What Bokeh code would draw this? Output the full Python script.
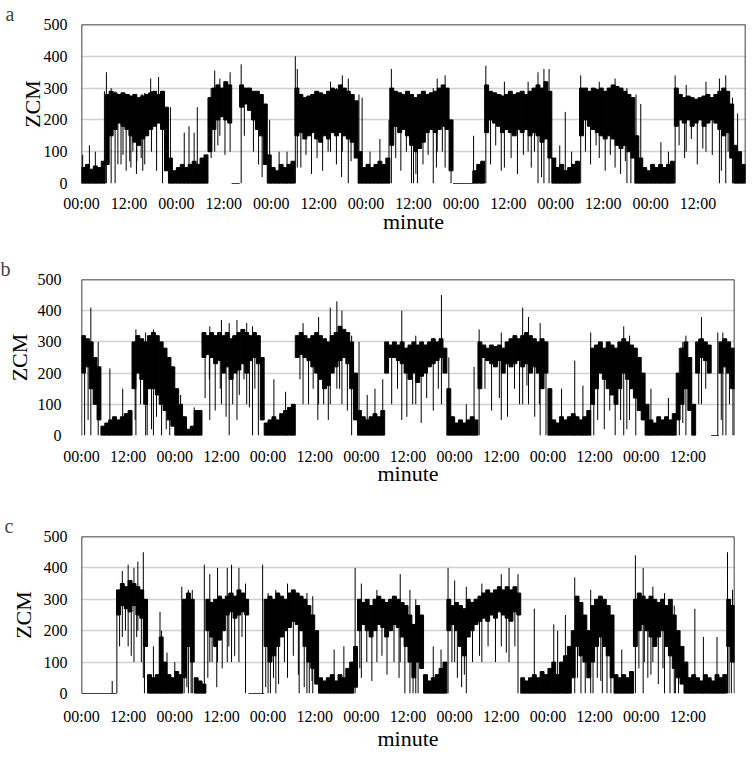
from bokeh.plotting import figure
from bokeh.models import Range1d, FixedTicker, Span, ColumnDataSource
from bokeh.layouts import column
from bokeh.embed import file_html
from bokeh.resources import INLINE

# ---------------- data (hourly envelope of ZCM) ----------------
tick_minutes = [0, 720, 1440, 2160, 2880, 3600, 4320, 5040, 5760, 6480, 7200, 7920, 8640, 9360]
tick_labels = ["00:00", "12:00"] * 7

a_top = [50, 60, 45, 55, 50, 70, 280, 290, 285, 280, 285, 280, 275, 280, 270, 275, 280, 285, 290, 280,
         290, 240, 80, 40, 50, 60, 50, 60, 70, 60, 80, 90, 270, 300, 310, 300, 320, 310, 0, 0,
         310, 300, 300, 290, 290, 280, 250, 90, 50, 40, 60, 50, 60, 70, 300, 280, 270, 275, 280, 290,
         285, 280, 290, 300, 295, 310, 300, 290, 280, 260, 100, 50, 60, 50, 60, 70, 60, 80, 300, 290,
         285, 280, 290, 280, 270, 280, 290, 280, 285, 290, 300, 310, 300, 200, 0, 0, 0, 0, 0, 40,
         60, 70, 310, 290, 285, 280, 275, 280, 290, 280, 285, 290, 280, 290, 300, 310, 300, 320, 290, 80,
         50, 60, 40, 50, 60, 70, 300, 300, 290, 300, 295, 300, 290, 300, 310, 305, 300, 290, 280, 270,
         150, 80, 50, 40, 60, 50, 60, 50, 60, 70, 300, 280, 270, 275, 270, 265, 270, 275, 280, 270,
         280, 290, 300, 290, 250, 120, 100, 60]
a_bot = [0, 0, 0, 0, 0, 0, 60, 150, 170, 190, 180, 170, 150, 130, 120, 140, 150, 170, 180, 190,
         170, 40, 0, 0, 0, 0, 0, 0, 0, 0, 0, 0, 100, 170, 200, 210, 200, 190, 0, 0,
         240, 250, 230, 200, 170, 150, 60, 0, 0, 0, 0, 0, 0, 0, 150, 160, 140, 150, 160, 140,
         130, 150, 140, 160, 150, 160, 150, 140, 130, 80, 0, 0, 0, 0, 0, 0, 0, 0, 120, 180,
         160, 170, 150, 120, 100, 110, 130, 160, 170, 160, 170, 180, 170, 40, 0, 0, 0, 0, 0, 0,
         0, 0, 160, 200, 190, 180, 160, 170, 160, 150, 170, 160, 170, 150, 160, 150, 130, 140, 80, 0,
         0, 0, 0, 0, 0, 0, 150, 200, 180, 170, 160, 150, 140, 150, 140, 120, 110, 120, 100, 80,
         0, 0, 0, 0, 0, 0, 0, 0, 0, 0, 180, 200, 190, 200, 180, 190, 200, 180, 190, 200,
         190, 170, 150, 160, 80, 0, 0, 0]
a_spk_h = [0.3, 2.0, 3.5, 5.8, 6.3, 7.5, 8.5, 10, 12.5, 14, 15.5, 17.5, 19.5, 20.5, 22.5, 26, 27.2, 28.5,
           29.3, 33.7, 35, 37.6, 40.4, 47.6, 50, 52, 54.1, 54.6, 63, 66, 67.5, 70.2, 71, 73, 75.5, 77.8,
           78.4, 84, 85, 89, 90, 92, 93.5, 99.2, 102.3, 107, 113, 115.5, 117, 118.3, 121, 122.4, 124,
           126.3, 131, 135, 138, 140.3, 141.5, 146.6, 148.5, 150.2, 153, 158, 161.4, 163, 164.7, 166]
a_spk_lo = [0, 0, 0, 0, 0, 0, 0, 60, 50, 70, 40, 200, 220, 0, 0, 0, 0, 0,
            0, 100, 150, 100, 0, 0, 0, 0, 0, 50, 100, 100, 0, 0, 0, 0, 0, 0,
            0, 0, 0, 0, 100, 50, 0, 0, 0, 50, 100, 0, 0, 0, 0, 0, 0,
            0, 80, 50, 0, 0, 0, 0, 0, 0, 100, 100, 0, 0, 0, 0]
a_spk_hi = [90, 120, 100, 290, 350, 300, 290, 280, 270, 260, 280, 330, 335, 290, 240, 160, 180, 160,
            240, 355, 330, 350, 375, 200, 100, 100, 400, 360, 320, 340, 330, 280, 270, 100, 140, 200,
            360, 250, 270, 300, 330, 340, 150, 150, 370, 320, 320, 350, 360, 360, 120, 225, 100,
            340, 320, 330, 300, 280, 250, 130, 100, 340, 310, 320, 330, 340, 270, 220]
a_drop_h = [9.2, 10.5, 11.3, 12.2, 13.0, 13.9, 15.1, 16.0, 17.7, 19.0, 32.8, 34.5, 36.3, 41.2, 43.5,
            44.8, 45.7, 55.5, 56.8, 58.2, 59.6, 61.0, 62.4, 64.5, 65.8, 68.2, 79.5, 80.8, 82.2, 83.5,
            84.6, 86.4, 87.7, 89.8, 91.3, 103.5, 104.8, 106.2, 108.7, 110.3, 111.8, 113.8, 114.6, 116.4,
            127.5, 128.8, 130.2, 132.5, 133.8, 136.4, 137.6, 139.0, 151.2, 152.6, 154.3, 155.8, 157.2,
            159.6, 161.9, 163.6]
a_drop_lo = [60, 90, 40, 70, 100, 30, 80, 60, 100, 40, 80, 120, 90, 150, 100,
             60, 20, 50, 90, 30, 80, 40, 100, 60, 20, 70, 80, 40, 100, 0,
             30, 60, 90, 50, 100, 60, 120, 40, 80, 30, 90, 50, 100, 20,
             100, 60, 120, 40, 90, 30, 70, 0, 120, 80, 140, 60, 110,
             90, 40, 100]
a_drop_hi = [280, 285, 270, 280, 275, 270, 280, 285, 290, 280, 300, 310, 320, 300, 290,
             280, 270, 280, 270, 280, 290, 280, 290, 300, 310, 280, 290, 285, 280, 280,
             270, 290, 280, 290, 300, 290, 285, 280, 290, 285, 290, 290, 300, 300,
             300, 290, 300, 290, 300, 300, 290, 270, 280, 270, 270, 265, 275,
             270, 290, 290]

b_top = [320, 310, 300, 250, 220, 30, 40, 50, 60, 50, 60, 70, 80, 300, 320, 310, 300, 320, 330, 320,
         300, 280, 250, 220, 150, 100, 60, 20, 30, 80, 80, 330, 320, 330, 320, 330, 320, 330, 310, 320,
         330, 340, 330, 320, 330, 320, 250, 40, 50, 60, 50, 70, 80, 90, 100, 320, 330, 320, 310, 320,
         330, 320, 310, 300, 320, 330, 350, 340, 330, 300, 200, 80, 60, 50, 60, 70, 60, 80, 300, 290,
         300, 290, 300, 280, 290, 300, 290, 300, 290, 300, 310, 300, 310, 280, 150, 60, 40, 50, 40, 50,
         60, 50, 300, 290, 280, 290, 285, 290, 280, 300, 310, 320, 310, 320, 330, 320, 310, 300, 310, 300,
         150, 50, 40, 60, 50, 60, 70, 60, 50, 60, 80, 280, 290, 300, 280, 300, 290, 280, 300, 310,
         300, 290, 280, 250, 200, 100, 50, 40, 60, 50, 60, 50, 70, 200, 280, 300, 250, 100, 300, 310,
         300, 290, 0, 0, 300, 310, 300, 280]
b_bot = [200, 220, 150, 100, 50, 0, 0, 0, 0, 0, 0, 0, 0, 150, 200, 180, 100, 150, 150, 130,
         100, 80, 50, 30, 0, 0, 0, 0, 0, 0, 0, 250, 260, 250, 230, 240, 200, 220, 180, 200,
         210, 230, 200, 240, 250, 230, 50, 0, 0, 0, 0, 0, 0, 0, 0, 250, 260, 250, 240, 220,
         200, 180, 150, 160, 200, 220, 240, 250, 230, 150, 50, 0, 0, 0, 0, 0, 0, 0, 200, 250,
         250, 240, 230, 200, 180, 200, 170, 190, 200, 220, 230, 240, 250, 200, 0, 0, 0, 0, 0, 0,
         0, 0, 150, 250, 240, 230, 220, 240, 200, 230, 220, 230, 240, 220, 230, 200, 220, 200, 150, 200,
         0, 0, 0, 0, 0, 0, 0, 0, 0, 0, 0, 100, 150, 200, 180, 150, 130, 100, 150, 200,
         180, 150, 120, 80, 50, 0, 0, 0, 0, 0, 0, 0, 0, 50, 100, 150, 80, 0, 200, 250,
         240, 200, 0, 0, 200, 220, 200, 150]
b_spk_h = [2.4, 4.3, 7.3, 10.6, 14, 16.5, 18.5, 25.5, 29, 33, 36, 38, 40, 42.5, 44, 45.5, 49.5, 52.5,
           57, 61, 64, 65.7, 67, 69.5, 71.4, 73.5, 75.5, 77.5, 82.4, 86, 92.6, 94.5, 99, 101, 102.3,
           108, 113.5, 115, 118, 119.5, 123.5, 126.9, 129, 131, 139.5, 141, 146.5, 151, 155.5, 159.5,
           163.7, 165]
b_spk_lo = [0, 0, 0, 0, 0, 0, 0, 0, 0, 50, 100, 0, 50, 100, 0, 0, 0, 0,
            100, 100, 100, 150, 100, 0, 0, 0, 0, 0, 50, 100, 100, 0, 0, 0, 0,
            50, 100, 100, 0, 0, 0, 0, 0, 0, 0, 50, 0, 0, 0, 100,
            0, 0]
b_spk_hi = [410, 300, 215, 150, 340, 330, 340, 130, 90, 350, 370, 360, 370, 360, 350, 320, 180, 140,
            360, 380, 410, 430, 400, 320, 300, 130, 150, 180, 400, 320, 450, 250, 100, 220, 340,
            330, 410, 380, 360, 300, 150, 240, 160, 330, 350, 320, 150, 120, 320, 380,
            330, 330]
b_drop_h = [0.8, 1.7, 13.8, 15.2, 16.9, 18.0, 19.3, 20.6, 21.8, 22.7, 31.8, 32.9, 34.4, 35.7, 37.2,
            38.9, 40.6, 41.8, 43.2, 44.6, 56.2, 58.4, 59.6, 60.8, 62.3, 63.5, 66.4, 68.4, 79.8, 81.3,
            83.7, 85.2, 87.4, 88.8, 90.5, 91.8, 103.8, 105.5, 107.5, 109.6, 111.4, 112.7, 114.6, 116.6,
            117.8, 131.8, 132.8, 134.5, 135.9, 137.3, 138.7, 140.3, 142.6, 153.8, 154.7, 158.8, 160.6,
            164.6, 165.8, 166.7, 167.6]
b_drop_lo = [0, 50, 50, 100, 0, 20, 60, 0, 20, 0, 120, 180, 80, 150, 60,
             100, 130, 180, 90, 150, 180, 100, 150, 50, 100, 50, 150, 80, 100, 150,
             60, 100, 40, 120, 80, 150, 150, 80, 120, 60, 150, 100, 160, 60,
             100, 0, 50, 20, 80, 0, 50, 20, 0, 0, 40, 100, 150,
             50, 0, 100, 0]
b_drop_hi = [320, 310, 300, 310, 300, 330, 320, 300, 280, 250, 330, 320, 320, 330, 330,
             320, 330, 340, 320, 330, 330, 310, 320, 330, 310, 300, 350, 330, 290, 290,
             280, 300, 300, 290, 310, 300, 290, 290, 290, 300, 320, 310, 330, 310,
             300, 280, 290, 280, 300, 280, 300, 300, 280, 280, 300, 310, 300,
             300, 310, 300, 280]

c_top = [0, 0, 0, 0, 0, 0, 0, 0, 0, 330, 350, 340, 360, 350, 340, 330, 300, 60, 50, 60,
         180, 100, 60, 50, 70, 60, 300, 320, 300, 50, 40, 30, 300, 290, 300, 310, 300, 310, 320, 310,
         330, 320, 300, 0, 0, 0, 0, 300, 310, 300, 320, 310, 300, 320, 330, 320, 310, 300, 280, 250,
         200, 50, 40, 50, 60, 40, 60, 50, 80, 100, 150, 300, 290, 300, 280, 300, 310, 300, 290, 300,
         310, 300, 290, 280, 250, 220, 280, 250, 60, 40, 50, 60, 80, 100, 300, 280, 290, 280, 270, 300,
         290, 300, 310, 320, 330, 320, 330, 340, 330, 340, 330, 340, 320, 50, 40, 50, 60, 50, 70, 60,
         80, 100, 60, 100, 120, 150, 200, 310, 290, 250, 200, 280, 300, 310, 300, 280, 250, 60, 50, 60,
         50, 70, 300, 320, 310, 300, 310, 300, 290, 300, 280, 300, 250, 200, 150, 100, 50, 60, 50, 40,
         60, 50, 40, 60, 50, 60, 300, 280]
c_bot = [0, 0, 0, 0, 0, 0, 0, 0, 0, 250, 280, 270, 260, 280, 250, 240, 150, 0, 0, 0,
         0, 0, 0, 0, 0, 0, 50, 150, 100, 0, 0, 0, 200, 180, 150, 170, 200, 250, 260, 240,
         250, 260, 250, 0, 0, 0, 0, 150, 100, 120, 150, 180, 200, 210, 230, 220, 200, 150, 100, 80,
         30, 0, 0, 0, 0, 0, 0, 0, 0, 0, 20, 200, 220, 200, 180, 200, 220, 210, 180, 200,
         220, 210, 180, 150, 100, 50, 100, 80, 0, 0, 0, 0, 0, 0, 200, 220, 200, 150, 120, 180,
         200, 220, 230, 240, 230, 250, 240, 260, 250, 240, 230, 260, 250, 0, 0, 0, 0, 0, 0, 0,
         0, 0, 0, 0, 0, 0, 50, 150, 120, 100, 50, 100, 150, 180, 150, 120, 50, 0, 0, 0,
         0, 0, 150, 200, 220, 200, 180, 150, 180, 200, 150, 120, 80, 50, 30, 0, 0, 0, 0, 0,
         0, 0, 0, 0, 0, 0, 150, 100]
c_spk_h = [7.9, 9.1, 10.5, 12, 13.5, 14.5, 15.9, 16.2, 18.5, 20.2, 20.6, 22, 24, 25.8, 27.5, 28.5,
           31.6, 33, 35, 37.5, 38.6, 40.5, 42.2, 46.6, 48, 50, 53, 56, 58, 59.5, 65, 67.5, 70.4, 72,
           76, 82, 84.5, 86, 90.5, 92.5, 94.3, 96, 99, 103, 108, 110, 112.3, 116.5, 121.5, 122.5,
           124.5, 126.9, 131, 134, 139, 142.5, 144.5, 147, 150, 152.5, 157.8, 160, 163.5, 166.2, 167.5]
c_spk_lo = [0, 0, 180, 150, 100, 200, 50, 0, 0, 0, 0, 0, 0, 0, 0, 0,
            0, 100, 100, 100, 100, 100, 0, 0, 0, 0, 50, 0, 0, 0, 0, 0, 0, 50,
            100, 100, 0, 0, 0, 0, 0, 100, 0, 100, 150, 100, 0, 0, 0, 0,
            0, 0, 0, 0, 0, 0, 0, 100, 0, 0, 0, 0, 0, 0, 100]
c_spk_hi = [40, 250, 390, 410, 400, 420, 450, 300, 150, 260, 200, 130, 100, 340, 330, 330,
            410, 380, 400, 400, 410, 400, 350, 410, 320, 330, 350, 300, 320, 310, 140, 150, 400, 350,
            330, 380, 330, 300, 150, 140, 400, 360, 340, 350, 380, 400, 380, 270, 220, 200,
            250, 370, 330, 280, 140, 440, 400, 340, 320, 280, 270, 180, 180, 450, 330]
c_drop_h = [9.8, 11.3, 12.8, 14.2, 15.4, 26.4, 27.1, 28.2, 32.5, 33.6, 34.8, 36.2, 37.9, 39.4, 41.3,
            47.4, 48.6, 49.4, 50.7, 52.2, 54.5, 55.8, 57.3, 58.6, 59.3, 71.6, 73.4, 74.7, 77.3, 78.6,
            80.4, 81.7, 83.2, 85.3, 86.6, 95.3, 96.7, 97.8, 98.5, 100.6, 102.4, 104.6, 106.5, 109.3,
            111.5, 127.6, 128.5, 129.6, 131.6, 132.7, 133.6, 135.2, 136.2, 143.4, 144.8, 145.7, 146.5,
            148.4, 149.6, 151.4, 152.8, 153.6, 166.6, 167.2]
c_drop_lo = [150, 200, 120, 180, 100, 0, 20, 0, 50, 100, 20, 80, 150, 120, 180,
             20, 0, 50, 30, 100, 120, 60, 20, 0, 40, 80, 100, 40, 120, 60,
             100, 50, 0, 0, 0, 100, 50, 20, 60, 100, 120, 150, 100, 130,
             150, 50, 0, 0, 0, 50, 40, 0, 0, 80, 100, 50, 60,
             30, 80, 0, 0, 0, 0, 0]
c_drop_hi = [330, 340, 360, 340, 330, 300, 320, 300, 300, 290, 300, 300, 320, 310, 320,
             300, 310, 300, 320, 300, 330, 320, 300, 280, 250, 300, 300, 280, 300, 290,
             310, 300, 280, 220, 280, 280, 290, 280, 270, 290, 310, 330, 330, 340,
             340, 310, 290, 250, 280, 300, 310, 280, 250, 320, 310, 300, 310,
             290, 300, 300, 250, 200, 300, 280]

SERIF = "Liberation Serif"
MIN_PER_H = 60
TOTAL_MIN = 10080
Y_TICKS = [0, 100, 200, 300, 400, 500]


def panel(letter, tops, bots, sh, slo, shi, dh, dlo, dhi, geo):
    bl, fw, br, bt, fh, bb, ylab_stand, yax_stand, xtick_stand, xlab_stand = geo
    p = figure(frame_width=fw, frame_height=fh, min_border_left=bl, min_border_right=br,
               min_border_top=bt, min_border_bottom=bb, output_backend="svg",
               toolbar_location=None, x_range=Range1d(0, TOTAL_MIN), y_range=Range1d(0, 500))
    hrs = list(range(len(tops)))
    src = ColumnDataSource(dict(left=[h * MIN_PER_H for h in hrs],
                                right=[(h + 1) * MIN_PER_H for h in hrs],
                                top=tops, bottom=bots))
    p.quad(left="left", right="right", top="top", bottom="bottom", source=src,
           fill_color="black", line_color="black", line_width=1)
    ssrc = ColumnDataSource(dict(x=[h * MIN_PER_H for h in list(sh) + list(dh)],
                                 y0=list(slo) + list(dlo), y1=list(shi) + list(dhi)))
    p.segment(x0="x", x1="x", y0="y0", y1="y1", source=ssrc, line_color="black", line_width=1)

    p.outline_line_color = None
    for loc, dim in ((500, "width"), (0, "height"), (TOTAL_MIN, "height")):
        p.add_layout(Span(location=loc, dimension=dim, line_color="black", line_width=1.5))

    p.xgrid.visible = False
    p.ygrid.grid_line_color = "#d0d0d0"
    p.ygrid.grid_line_width = 1.5
    p.ygrid.ticker = FixedTicker(ticks=Y_TICKS)

    for ax in (p.xaxis, p.yaxis):
        ax.axis_line_color = None
        ax.major_tick_line_color = None
        ax.minor_tick_line_color = None
        ax.major_tick_in = 0
        ax.major_tick_out = 0
        ax.minor_tick_in = 0
        ax.minor_tick_out = 0
        ax.major_label_text_font = SERIF
        ax.major_label_text_font_size = "16px"
        ax.major_label_text_color = "black"
        ax.axis_label_text_font = SERIF
        ax.axis_label_text_font_size = "22px"
        ax.axis_label_text_font_style = "normal"
        ax.axis_label_text_color = "black"

    p.yaxis.ticker = FixedTicker(ticks=Y_TICKS)
    p.yaxis.major_label_standoff = ylab_stand
    p.yaxis.axis_label = "ZCM"
    p.yaxis.axis_label_standoff = yax_stand

    p.xaxis.ticker = FixedTicker(ticks=tick_minutes)
    p.xaxis.major_label_overrides = {t: s for t, s in zip(tick_minutes, tick_labels)}
    p.xaxis.major_label_standoff = xtick_stand
    p.xaxis.axis_label = "minute"
    p.xaxis.axis_label_standoff = xlab_stand

    p.title.text = letter
    p.title.align = "left"
    p.title.offset = -bl
    p.title.text_font = SERIF
    p.title.text_font_size = "20px"
    p.title.text_font_style = "normal"
    p.title.standoff = 0
    return p


pa = panel("a", a_top, a_bot, a_spk_h, a_spk_lo, a_spk_hi, a_drop_h, a_drop_lo, a_drop_hi,
           (76, 664, 6, 20, 159, 63, 14, -4, 11, -6))
pb = panel("b", b_top, b_bot, b_spk_h, b_spk_lo, b_spk_hi, b_drop_h, b_drop_lo, b_drop_hi,
           (81, 653, 12, 33, 156, 66, 20, 3, 12, -7))
pc = panel("c", c_top, c_bot, c_spk_h, c_spk_lo, c_spk_hi, c_drop_h, c_drop_lo, c_drop_hi,
           (77, 653, 16, 35, 157, 57, 14, 5, 14, -2))

layout = column(pa, pb, pc, spacing=0)
open("out.html", "w").write(file_html(layout, INLINE))
